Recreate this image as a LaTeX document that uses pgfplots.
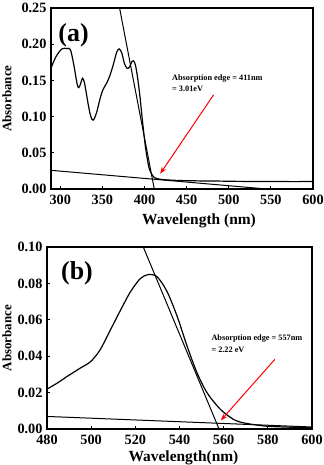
\documentclass[border=0pt]{standalone}
\usepackage{pgfplots}
\pgfplotsset{compat=1.18}
\usepackage{fontspec}
\setmainfont{Liberation Serif}
\usetikzlibrary{arrows.meta}
\begin{document}
\begin{tikzpicture}
\useasboundingbox (0,0) rectangle (324bp,465bp);
\pgfplotsset{
  every axis/.append style={
    scale only axis,
    axis line style={line width=1.2bp},
    tick style={line width=0.8bp,black},
    tick align=inside,
    xtick pos=bottom, ytick pos=left,
    major tick length=3bp,
    /pgf/number format/assume math mode=true,
    tick label style={font=\fontsize{14.3}{16}\selectfont\bfseries},
    xticklabel style={yshift=-2.5bp},
    yticklabel style={xshift=-1bp},
  }
}
% ---------- (a) ----------
\begin{axis}[
  at={(51bp,276bp)}, anchor=south west,
  width=262bp, height=181bp,
  xmin=289, xmax=600, ymin=0, ymax=0.25,
  xtick={300,350,...,600},
  ytick={0,0.05,0.10,0.15,0.20,0.25},
  yticklabel style={/pgf/number format/.cd,fixed,fixed zerofill,precision=2},
  xlabel={\fontsize{15.5}{17}\selectfont\bfseries Wavelength (nm)},
  ylabel={\fontsize{13}{15}\selectfont\bfseries Absorbance},
  xlabel style={at={(axis description cs:0.565,-0.177)}, anchor=center},
  ylabel style={at={(axis description cs:-0.168,0.5)}, anchor=center},
]
\addplot[black, line width=1.2bp, smooth, tension=0.5] coordinates {
(289,0.167) (295,0.183) (302,0.1935) (308,0.194) (312,0.1925) (316,0.172) (320,0.145) (322,0.140)
(324,0.145) (326.5,0.153) (329,0.145) (333,0.118) (336,0.101) (339,0.095) (343,0.105)
(347.5,0.126) (351,0.138) (355,0.146) (359,0.157) (363,0.172) (367,0.189) (370,0.1935)
(373,0.188) (376,0.174) (379,0.167) (382,0.168) (385,0.176) (387,0.177) (389,0.172)
(391,0.160) (393,0.143) (395,0.1235) (397,0.100) (399,0.079) (401,0.059) (403,0.044)
(405,0.031) (407,0.024) (409,0.0195) (411,0.0165) (413,0.015) (417,0.0138) (422,0.013)
(427,0.0125) (440,0.0118) (450,0.0115) (470,0.0111) (490,0.0109) (505,0.0106) (530,0.0104)
(550,0.0104) (575,0.0102) (600,0.0103)
};
\addplot[black, line width=1bp] coordinates {(370.4,0.25) (411.6,0)};
\addplot[black, line width=1bp] coordinates {(289,0.0258) (545,0)};
\draw[red, line width=1bp, -{Stealth[length=7bp,width=5bp]}] (axis cs:482,0.130) -- (axis cs:418.6,0.021);
\node[anchor=west, align=left, font=\fontsize{8.3}{11}\selectfont\bfseries, inner sep=0pt]
  at (axis cs:432.6,0.1455) {Absorption edge = 411nm\\= 3.01eV};
\node[font=\fontsize{26}{28}\selectfont\bfseries] at (axis cs:315.8,0.213) {(a)};
\end{axis}
% ---------- (b) ----------
\begin{axis}[
  at={(47bp,36bp)}, anchor=south west,
  width=265bp, height=182bp,
  xmin=480, xmax=600, ymin=0, ymax=0.10,
  xtick={480,500,...,600},
  ytick={0,0.02,0.04,0.06,0.08,0.10},
  yticklabel style={/pgf/number format/.cd,fixed,fixed zerofill,precision=2},
  xlabel={\fontsize{15.5}{17}\selectfont\bfseries Wavelength(nm)},
  ylabel={\fontsize{13}{15}\selectfont\bfseries Absorbance},
  xlabel style={at={(axis description cs:0.515,-0.176)}, anchor=base, inner sep=0pt},
  ylabel style={at={(axis description cs:-0.151,0.5)}, anchor=center},
]
\addplot[black, line width=1.2bp, smooth, tension=0.5] coordinates {
(480,0.0219) (485,0.0255) (489,0.0288) (495,0.0334) (499.7,0.037) (504,0.0434) (508.7,0.0544)
(513.3,0.0653) (517.8,0.0754) (522.3,0.0827) (526,0.0849) (529.9,0.0836) (534.4,0.0754)
(539,0.0617) (543.5,0.0453) (548,0.0307) (552.6,0.0197) (558.7,0.0106) (564.7,0.0051)
(569,0.0034) (573.8,0.0024) (579.8,0.0015) (590,0.0010) (600,0.0007)
};
\addplot[black, line width=1bp] coordinates {(523.6,0.10) (557.9,0)};
\addplot[black, line width=1bp] coordinates {(480,0.0069) (600,0.0011)};
\draw[red, line width=1bp, -{Stealth[length=7bp,width=5bp]}] (axis cs:583.2,0.0383) -- (axis cs:558.7,0.0047);
\node[anchor=west, align=left, font=\fontsize{8.3}{12}\selectfont\bfseries, inner sep=0pt]
  at (axis cs:554.4,0.0468) {Absorption edge = 557nm\\= 2.22 eV};
\node[font=\fontsize{26}{28}\selectfont\bfseries] at (axis cs:493.6,0.0854) {(b)};
\end{axis}
\end{tikzpicture}
\end{document}
